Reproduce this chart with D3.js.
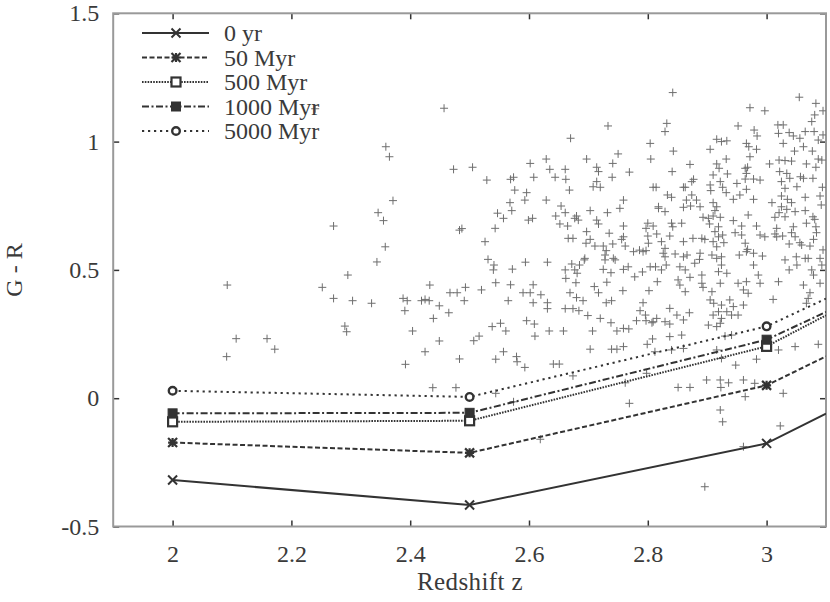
<!DOCTYPE html>
<html>
<head>
<meta charset="utf-8">
<script src="https://cdn.jsdelivr.net/npm/d3@7/dist/d3.min.js"></script>
<style>
  body { margin: 0; background: #fff; }
  svg { display: block; }
</style>
</head>
<body>
<div id="chart"></div>
<script>
// model tracks (redshift z vs G - R colour), one array per age
var modelZ = [2, 2.5, 3, 3.1];
var yr0    = [-0.319, -0.416, -0.176, -0.060];
var myr50  = [-0.173, -0.213, 0.050, 0.163];
var myr500 = [-0.092, -0.088, 0.202, 0.323];
var myr1000 = [-0.059, -0.057, 0.228, 0.336];
var myr5000 = [0.029, 0.005, 0.280, 0.388];
var markedZ = [2, 2.5, 3];   // model points that carry a symbol

var seriesNames = ["0 yr", "50 Myr", "500 Myr", "1000 Myr", "5000 Myr"];

var xTicks = [2, 2.2, 2.4, 2.6, 2.8, 3];
var yTicks = [-0.5, 0, 0.5, 1, 1.5];

// observed galaxies [z, G-R]
var galaxies = [
[2.457,1.130],[2.240,1.128],[2.359,0.980],[2.365,0.941],[2.473,0.892],[2.505,0.900],[2.529,0.850],[2.371,0.770],[2.346,0.723],[2.355,0.692],
[2.271,0.671],[2.483,0.655],[2.487,0.661],[2.526,0.610],[2.358,0.590],[2.344,0.531],[2.295,0.480],[2.092,0.441],[2.252,0.432],[2.271,0.389],
[2.303,0.380],[2.335,0.370],[2.433,0.441],[2.388,0.389],[2.395,0.380],[2.419,0.380],[2.425,0.385],[2.432,0.380],[2.391,0.341],[2.449,0.360],
[2.467,0.411],[2.479,0.411],[2.493,0.432],[2.491,0.380],[2.520,0.422],[2.465,0.333],[2.439,0.311],[2.290,0.281],[2.293,0.259],[2.404,0.262],
[2.107,0.232],[2.159,0.232],[2.172,0.191],[2.091,0.162],[2.449,0.223],[2.425,0.181],[2.507,0.224],[2.516,0.242],[2.483,0.153],[2.392,0.132],
[2.438,0.041],[2.477,0.041],[2.531,0.541],
[2.541,0.519],[2.540,0.500],[2.572,0.503],[2.594,0.530],[2.631,0.530],[2.693,0.539],[2.685,0.519],[2.677,0.500],[2.681,0.487],[2.661,0.500],
[2.662,0.467],[2.672,0.523],[2.544,0.450],[2.569,0.442],
[2.607,0.442],[2.590,0.411],[2.602,0.411],[2.620,0.403],[2.565,0.380],[2.607,0.372],[2.631,0.372],[2.631,0.349],[2.679,0.450],[2.669,0.411],
[2.680,0.392],[2.691,0.380],[2.661,0.349],[2.674,0.349],[2.684,0.341],[2.699,0.322],[2.710,0.435],[2.717,0.411],[2.731,0.452],[2.758,0.419],
[2.728,0.539],[2.745,0.539],[2.725,0.502],[2.738,0.489],[2.759,0.502],[2.767,0.512],[2.778,0.473],[2.791,0.492],[2.804,0.512],[2.813,0.512],
[2.816,0.454],[2.730,0.372],[2.739,0.380],[2.792,0.372],[2.787,0.341],[2.796,0.324],[2.802,0.419],[2.720,0.311],[2.738,0.294],[2.748,0.262],
[2.759,0.272],[2.768,0.270],[2.781,0.302],[2.797,0.302],[2.807,0.294],[2.538,0.279],[2.552,0.292],[2.561,0.262],[2.596,0.302],[2.609,0.289],
[2.610,0.242],[2.634,0.262],[2.658,0.262],[2.707,0.262],[2.703,0.191],[2.739,0.191],[2.748,0.191],[2.759,0.201],[2.799,0.210],[2.808,0.231],
[2.544,0.152],[2.557,0.181],[2.579,0.162],[2.580,0.142],[2.593,0.120],[2.641,0.133],[2.651,0.133],[2.674,0.087],[2.544,0.019],[2.574,-0.014],
[2.762,0.060],[2.769,-0.020],[2.798,0.097],[2.619,-0.160],
[2.733,1.061],[2.670,1.013],[2.804,0.993],[2.602,0.915],[2.629,0.932],[2.697,0.932],[2.714,0.900],[2.717,0.883],[2.741,0.915],[2.750,0.952],
[2.805,0.932],[2.769,0.881],[2.569,0.853],[2.574,0.861],[2.608,0.861],[2.635,0.892],[2.661,0.892],[2.644,0.861],[2.662,0.853],[2.740,0.861],
[2.714,0.844],[2.708,0.824],[2.720,0.822],[2.809,0.822],[2.814,0.822],[2.576,0.811],[2.596,0.801],[2.593,0.772],[2.568,0.762],[2.571,0.731],
[2.547,0.721],[2.557,0.701],[2.543,0.662],[2.629,0.772],[2.668,0.811],[2.654,0.749],[2.661,0.723],[2.645,0.710],[2.652,0.679],[2.665,0.671],
[2.680,0.710],[2.677,0.701],[2.683,0.694],[2.599,0.694],[2.606,0.701],[2.703,0.731],[2.714,0.694],[2.717,0.679],[2.732,0.723],[2.753,0.740],
[2.759,0.772],[2.818,0.740],[2.759,0.671],[2.800,0.682],[2.809,0.671],[2.797,0.662],[2.697,0.649],[2.703,0.619],[2.696,0.604],[2.735,0.643],
[2.666,0.623],[2.674,0.623],[2.759,0.629],[2.756,0.619],[2.762,0.593],[2.800,0.632],[2.801,0.604],[2.797,0.575],[2.711,0.593],[2.725,0.593],
[2.730,0.575],[2.741,0.601],[2.728,0.558],[2.776,0.571],[2.786,0.577],[2.792,0.571],[2.694,0.545],[2.742,0.545],
[2.842,1.191],[3.055,1.173],[3.083,1.149],[3.095,1.120],[2.972,1.132],[2.997,1.120],[2.832,1.071],[2.829,1.039],[2.952,1.061],[2.979,1.045],
[2.984,1.022],[3.019,1.065],[3.028,1.065],[3.020,1.032],[3.038,1.035],[3.045,1.022],[3.076,1.078],[3.081,1.104],[3.065,1.039],[3.080,1.039],
[3.087,1.006],[3.095,1.026],[2.916,1.009],[2.924,1.000],[2.933,1.003],[2.966,0.993],[2.970,0.980],[2.983,0.970],[3.028,0.993],[3.056,1.013],
[3.062,0.980],[3.077,0.963],[3.047,0.963],[2.905,0.970],[2.843,0.963],[2.972,0.941],[3.021,0.928],[3.031,0.926],[3.042,0.924],[2.932,0.932],
[3.005,0.913],[3.067,0.913],[3.083,0.900],[3.093,0.928],[3.087,0.932],[2.871,0.911],[2.916,0.913],[2.920,0.896],[2.934,0.874],[2.964,0.896],
[2.968,0.900],[2.966,0.876],[2.964,0.854],[2.978,0.854],[2.989,0.850],[2.841,0.883],[2.910,0.870],[3.022,0.883],[3.034,0.876],[3.039,0.857],
[3.057,0.863],[3.062,0.857],[3.078,0.857],[2.877,0.853],[2.874,0.844],[2.860,0.822],[2.863,0.822],[2.922,0.844],[2.926,0.822],[2.905,0.831],
[2.906,0.809],[2.950,0.837],[3.025,0.844],[3.031,0.818],[3.051,0.824],[3.094,0.822],[2.833,0.792],[2.840,0.783],[2.874,0.792],[2.882,0.772],
[2.865,0.772],[2.932,0.801],[2.944,0.775],[2.955,0.792],[2.966,0.814],[2.978,0.775],[3.025,0.788],[3.035,0.775],[3.065,0.783],[3.090,0.788],
[2.818,0.746],[2.829,0.727],[2.860,0.744],[2.872,0.749],[2.888,0.746],[2.910,0.762],[2.916,0.746],[2.913,0.731],[3.009,0.762],[3.025,0.746],
[3.021,0.723],[3.034,0.736],[3.042,0.762],[3.048,0.727],[3.065,0.731],[3.092,0.753],[2.893,0.705],[2.902,0.701],[2.910,0.710],[2.922,0.705],
[2.944,0.692],[2.969,0.714],[3.014,0.705],[3.031,0.707],[3.078,0.707],[3.081,0.697],[2.840,0.682],[2.857,0.682],[2.842,0.668],[2.904,0.679],
[2.919,0.668],[2.958,0.671],[2.983,0.671],[3.067,0.682],[3.017,0.662],[3.045,0.668],[3.042,0.645],[3.083,0.668],[3.084,0.645],[2.815,0.640],
[2.837,0.632],[2.823,0.610],[2.829,0.584],[2.860,0.610],[2.876,0.623],[2.891,0.623],[2.896,0.619],[2.913,0.649],[2.919,0.629],[2.910,0.610],
[2.916,0.590],[2.926,0.636],[2.928,0.606],[2.947,0.645],[2.958,0.636],[2.989,0.636],[2.997,0.629],[3.014,0.640],[3.017,0.629],[3.027,0.632],
[3.038,0.601],[3.048,0.629],[3.056,0.606],[3.059,0.597],[3.079,0.619],[3.073,0.593],[2.964,0.604],[2.968,0.580],[2.978,0.565],[2.966,0.571],
[2.826,0.565],[2.846,0.562],[2.866,0.558],[2.888,0.565],[2.908,0.558],[2.924,0.551],[2.954,0.558],[2.993,0.554],[3.050,0.551],[3.070,0.545],
[3.090,0.545],[3.095,0.578],
[2.829,0.551],[2.823,0.500],[2.831,0.519],[2.860,0.551],[2.854,0.512],[2.863,0.500],[2.887,0.541],[2.879,0.526],[2.916,0.545],[2.924,0.519],
[2.933,0.487],[2.919,0.493],[2.978,0.519],[2.986,0.480],[3.031,0.539],[3.038,0.500],[3.051,0.519],[3.065,0.545],[3.076,0.500],[3.079,0.480],
[3.093,0.519],[2.851,0.461],[2.854,0.441],[2.871,0.471],[2.891,0.480],[2.891,0.448],[2.863,0.415],[2.908,0.415],[2.893,0.432],[2.922,0.448],
[2.952,0.448],[2.966,0.454],[2.961,0.422],[2.969,0.409],[2.989,0.448],[3.020,0.454],[3.011,0.385],[3.062,0.441],[3.070,0.389],[3.073,0.411],
[3.067,0.370],[3.090,0.448],[2.905,0.383],[2.911,0.370],[2.924,0.363],[2.938,0.383],[2.944,0.357],[2.919,0.337],[2.933,0.337],[2.910,0.324],
[2.941,0.324],[2.952,0.324],[2.961,0.363],[2.924,0.311],[2.922,0.292],[2.916,0.279],[2.902,0.285],[2.837,0.350],[2.849,0.324],[2.860,0.305],
[2.870,0.333],[2.809,0.298],[2.829,0.298],[2.837,0.289],[2.815,0.311],[2.837,0.240],[2.857,0.246],[2.930,0.242],[2.941,0.246],[2.860,0.194],
[2.840,0.188],[2.812,0.181],[2.916,0.188],[3.020,0.188],[3.048,0.201],[3.087,0.210],[2.924,0.155],[2.983,0.152],[2.948,0.129],[2.899,0.071],
[2.922,0.071],[2.936,0.060],[2.851,0.042],[2.871,0.042],[2.923,0.042],[2.961,0.071],[2.964,0.006],[2.980,0.058],[3.028,0.019],[2.922,-0.046],
[2.926,-0.092],[3.023,-0.108],[2.961,-0.189],[2.896,-0.345]
];

var width = 830, height = 602;
var margin = {top: 13.3, right: 4, bottom: 75.5, left: 113.2};
var fontStack = '"Liberation Serif", "Times New Roman", serif';
var fontSize = 24;

var svg = d3.select("#chart").append("svg")
  .attr("width", width)
  .attr("height", height);

var x = d3.scaleLinear().domain([1.9, 3.1]).range([margin.left, width - margin.right]);
var y = d3.scaleLinear().domain([-0.5, 1.5]).range([height - margin.bottom, margin.top]);

svg.append("clipPath").attr("id", "plot-clip")
  .append("rect")
  .attr("x", x(1.9)).attr("y", y(1.5))
  .attr("width", x(3.1) - x(1.9)).attr("height", y(-0.5) - y(1.5));

// axes, ticks pointing inwards on all four sides
function styleAxis(g) {
  g.attr("font-family", null).attr("font-size", null);
  g.select(".domain").remove();
  g.selectAll(".tick line").attr("stroke", "#333").attr("stroke-width", 1.5);
  g.selectAll(".tick text").attr("font-family", fontStack).attr("font-size", fontSize).attr("fill", "#3a3a3a");
}

svg.append("g")
  .attr("transform", "translate(0," + y(-0.5) + ")")
  .call(d3.axisBottom(x).tickValues(xTicks).tickSize(-6).tickPadding(18).tickFormat(d => String(d)))
  .call(styleAxis);
svg.append("g")
  .attr("transform", "translate(0," + y(1.5) + ")")
  .call(d3.axisTop(x).tickValues(xTicks).tickSize(-6).tickFormat(""))
  .call(styleAxis);
svg.append("g")
  .attr("transform", "translate(" + x(1.9) + ",0)")
  .call(d3.axisLeft(y).tickValues(yTicks).tickSize(-6).tickPadding(14).tickFormat(d => String(d)))
  .call(styleAxis);
svg.append("g")
  .attr("transform", "translate(" + x(3.1) + ",0)")
  .call(d3.axisRight(y).tickValues(yTicks).tickSize(-6).tickFormat(""))
  .call(styleAxis);

// frame
svg.append("rect")
  .attr("x", x(1.9)).attr("y", y(1.5))
  .attr("width", x(3.1) - x(1.9)).attr("height", y(-0.5) - y(1.5))
  .attr("fill", "none").attr("stroke", "#999").attr("stroke-width", 2);

// axis titles (y title reads bottom to top)
svg.append("text").attr("transform", "translate(14,270) rotate(-90)").attr("dy", "0.35em")
  .attr("text-anchor", "middle").attr("font-family", fontStack).attr("font-size", fontSize)
  .attr("fill", "#3a3a3a").text("G - R");
svg.append("text").attr("x", 470).attr("y", 590)
  .attr("text-anchor", "middle").attr("font-family", fontStack).attr("font-size", 25)
  .attr("letter-spacing", 0.4).attr("fill", "#3a3a3a").text("Redshift z");

// observed points as gray pluses
var plot = svg.append("g").attr("clip-path", "url(#plot-clip)");
var pl = 4;
plot.append("g").selectAll("path").data(galaxies).enter().append("path")
  .attr("d", d => {
    var cx = x(d[0]), cy = y(d[1]);
    return "M" + (cx - pl) + "," + cy + "H" + (cx + pl) + "M" + cx + "," + (cy - pl) + "V" + (cy + pl);
  })
  .attr("stroke", "#6e6e6e").attr("stroke-width", 1).attr("fill", "none");

// model tracks
var ink = "#333";
var series = [
  {name: seriesNames[0], values: yr0,     dash: null,        marker: "cross"},
  {name: seriesNames[1], values: myr50,   dash: "5,2.5",     marker: "star"},
  {name: seriesNames[2], values: myr500,  dash: "1.6,1.2",   marker: "boxOpen"},
  {name: seriesNames[3], values: myr1000, dash: "7,2.5,2,2.5", marker: "boxFill"},
  {name: seriesNames[4], values: myr5000, dash: "2.2,3.8",   marker: "circle"}
];

var line = d3.line().x(d => x(d[0])).y(d => y(d[1]));

function drawMarker(g, type, cx, cy) {
  var s = 4.5;
  if (type === "cross") {
    g.append("path").attr("d", "M" + (cx - s) + "," + (cy - s) + "L" + (cx + s) + "," + (cy + s) +
      "M" + (cx - s) + "," + (cy + s) + "L" + (cx + s) + "," + (cy - s))
      .attr("stroke", ink).attr("stroke-width", 2).attr("fill", "none");
  } else if (type === "star") {
    g.append("path").attr("d", "M" + (cx - s) + "," + (cy - s) + "L" + (cx + s) + "," + (cy + s) +
      "M" + (cx - s) + "," + (cy + s) + "L" + (cx + s) + "," + (cy - s) +
      "M" + (cx - s) + "," + cy + "H" + (cx + s) + "M" + cx + "," + (cy - s) + "V" + (cy + s))
      .attr("stroke", ink).attr("stroke-width", 2.2).attr("fill", "none");
  } else if (type === "boxOpen") {
    g.append("rect").attr("x", cx - s).attr("y", cy - s).attr("width", 2 * s).attr("height", 2 * s)
      .attr("fill", "#fff").attr("stroke", ink).attr("stroke-width", 2.2);
  } else if (type === "boxFill") {
    g.append("rect").attr("x", cx - s).attr("y", cy - s).attr("width", 2 * s).attr("height", 2 * s)
      .attr("fill", ink).attr("stroke", ink).attr("stroke-width", 1);
  } else if (type === "circle") {
    g.append("circle").attr("cx", cx).attr("cy", cy).attr("r", 3.8)
      .attr("fill", "#fff").attr("stroke", ink).attr("stroke-width", 2.4);
  }
}

series.forEach(function(s) {
  var pts = modelZ.map((z, i) => [z, s.values[i]]);
  plot.append("path").datum(pts)
    .attr("d", line)
    .attr("fill", "none").attr("stroke", ink).attr("stroke-width", 2)
    .attr("stroke-dasharray", s.dash);
  var mg = svg.append("g");
  pts.filter(p => markedZ.indexOf(p[0]) >= 0).forEach(p => drawMarker(mg, s.marker, x(p[0]), y(p[1])));
});

// legend
var legend = svg.append("g");
series.forEach(function(s, i) {
  var ly = 33 + i * 24.5;
  legend.append("line").attr("x1", 142).attr("x2", 209).attr("y1", ly).attr("y2", ly)
    .attr("stroke", ink).attr("stroke-width", 2).attr("stroke-dasharray", s.dash);
  drawMarker(legend, s.marker, 176, ly);
  legend.append("text").attr("x", 224).attr("y", ly).attr("dy", "0.35em")
    .attr("font-family", fontStack).attr("font-size", fontSize).attr("fill", "#3a3a3a").text(s.name);
});
</script>
</body>
</html>
